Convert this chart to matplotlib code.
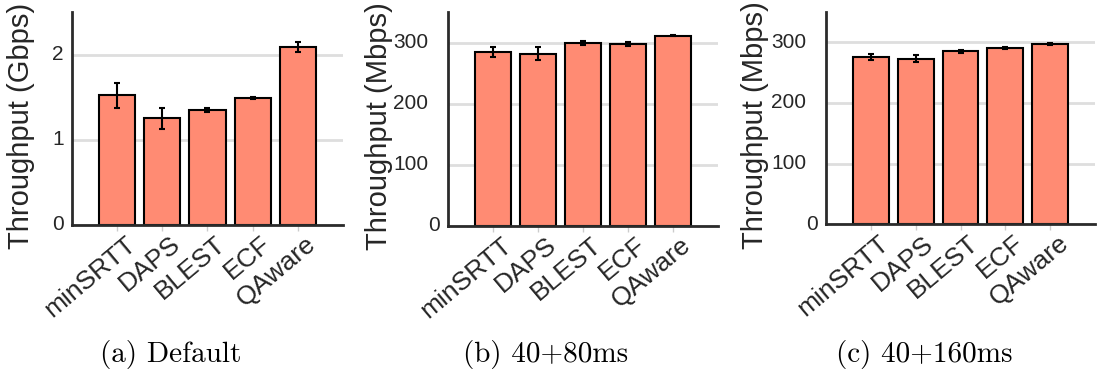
import matplotlib
matplotlib.use("Agg")
import matplotlib.pyplot as plt
import matplotlib.transforms as mtransforms
import numpy as np

schemes = ["minSRTT", "DAPS", "BLEST", "ECF", "QAware"]

# (a) Default, Gbps
default_mean = [1.52, 1.25, 1.35, 1.49, 2.09]
default_err = [0.15, 0.12, 0.02, 0.01, 0.06]

# (b) 40+80ms, Mbps
d80_mean = [284, 282, 299, 298, 311]
d80_err = [8, 10, 3, 3, 1]

# (c) 40+160ms, Mbps
d160_mean = [276, 273, 285, 291, 297]
d160_err = [5, 6, 3, 1.5, 1.5]

ylabels = ["Throughput (Gbps)", "Throughput (Mbps)", "Throughput (Mbps)"]
captions = ["(a) Default", "(b) 40+80ms", "(c) 40+160ms"]

plt.rcParams["font.family"] = ["Liberation Sans", "DejaVu Sans"]

BAR = "#FF8B73"
SPINE = "#2b2b2b"
GRID = "#dedede"
TEXT = "#262626"

fig = plt.figure(figsize=(10.99, 3.76), dpi=100)

boxes = [
    [0.0655, 0.4016, 0.2466, 0.5665],
    [0.4079, 0.3990, 0.2454, 0.5690],
    [0.7516, 0.4035, 0.2448, 0.5645],
]
ylims = [(0, 2.5), (0, 350), (0, 350)]
yticks = [[0, 1, 2], [0, 100, 200, 300], [0, 100, 200, 300]]
label_x = [-0.137, -0.205, -0.212]
cap_x = [0.1556, 0.496, 0.841]

data = [(default_mean, default_err), (d80_mean, d80_err), (d160_mean, d160_err)]


def px(dx, dy):
    return mtransforms.ScaledTranslation(dx / 100, dy / 100, fig.dpi_scale_trans)


x = np.arange(len(schemes))
for i, (mean, err) in enumerate(data):
    ax = fig.add_axes(boxes[i])
    ax.set_axisbelow(True)
    ax.yaxis.grid(True, color=GRID, linewidth=2)
    ax.bar(x, mean, width=0.8, color=BAR, edgecolor="black", linewidth=1.5,
           yerr=err, error_kw=dict(ecolor="black", elinewidth=1.5, capsize=2.5,
                                   capthick=1.5))
    ax.set_xlim(-1, 5)
    ax.set_ylim(*ylims[i])
    ax.set_yticks(yticks[i])
    ax.set_xticks(x)
    ax.tick_params(axis="y", length=0, labelleft=False)
    ax.tick_params(axis="x", length=4, color="#cccccc", width=1,
                   labelbottom=False)

    # rotated category labels below the axis
    xtr = mtransforms.blended_transform_factory(ax.transData, ax.transAxes)
    for xi, name in zip(x, schemes):
        ax.text(xi, 0, name, transform=xtr + px(15, -16), rotation=40,
                ha="right", va="center", rotation_mode="anchor",
                fontsize=19, color=TEXT)

    # value labels left of the spine; multi-digit ones sit further out
    ytr = mtransforms.blended_transform_factory(ax.transAxes, ax.transData)
    for v in yticks[i]:
        off = -20 if v >= 100 else -8
        ax.text(0, v, f"{v:g}", transform=ytr + px(off, 0), ha="right",
                va="center", fontsize=15, color=TEXT)

    for s in ["top", "right"]:
        ax.spines[s].set_visible(False)
    for s in ["left", "bottom"]:
        ax.spines[s].set_color(SPINE)
        ax.spines[s].set_linewidth(2)
    ax.set_ylabel(ylabels[i], fontsize=21, color=TEXT)
    ax.yaxis.set_label_coords(label_x[i], 0.465)
    fig.text(cap_x[i], 0.056, captions[i], ha="center", va="center",
             fontsize=21, family="cmr10")

fig.savefig("out.png", dpi=100)
